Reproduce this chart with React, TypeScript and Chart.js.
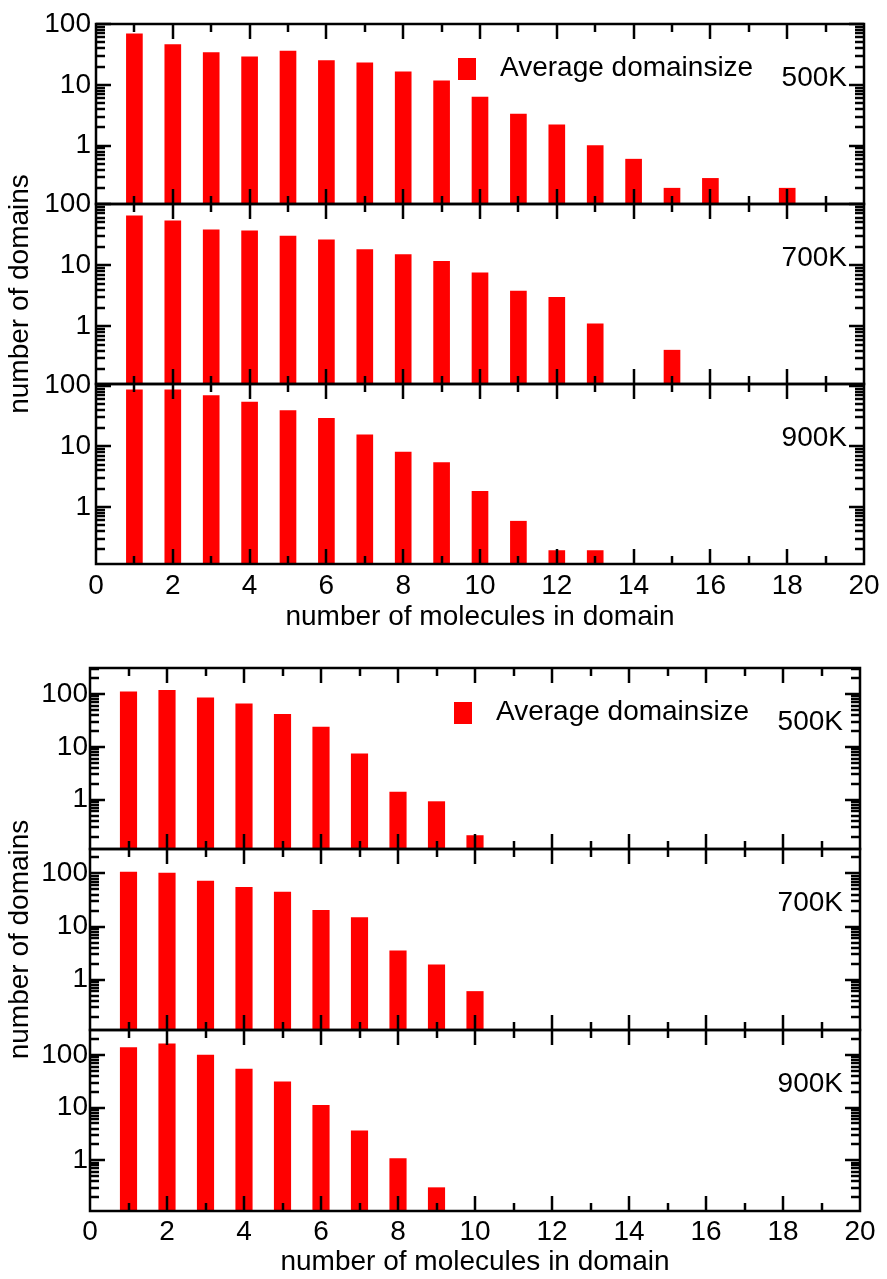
import React, { useEffect, useRef } from 'react';
import { Chart, registerables } from 'chart.js';

Chart.register(...registerables);

// ---------------- data ----------------
const temperatures = ['500K', '700K', '900K'];
const legendLabel = 'Average domainsize';
const xTitle = 'number of molecules in domain';
const yTitle = 'number of domains';
const decadeTicks = [0.1, 1, 10, 100, 1000];

// upper figure
const sizesUpper = [1, 2, 3, 4, 5, 6, 7, 8, 9, 10, 11, 12, 13, 14, 15, 16, 17, 18];
const upper500 = [69, 46, 34, 29, 36, 25, 23, 16.3, 11.6, 6.3, 3.3, 2.2, 1.0, 0.6, 0.2, 0.29, null, 0.2];
const upper700 = [64, 53, 38, 36.5, 30, 26, 18, 15, 11.6, 7.5, 3.8, 3.0, 1.1, null, 0.41, null, null, null];
const upper900 = [86, 86, 69, 54, 39, 29, 15.5, 8, 5.4, 1.8, 0.58, 0.19, 0.19, null, null, null, null, null];
const upperRanges = [[0.11, 100], [0.115, 100], [0.114, 107]];

// lower figure
const sizesLower = [1, 2, 3, 4, 5, 6, 7, 8, 9, 10];
const lower500 = [110, 117, 84, 65, 41, 23.6, 7.4, 1.4, 0.92, 0.21];
const lower700 = [106, 101, 72, 55, 44.6, 20.2, 14.7, 3.5, 1.9, 0.6];
const lower900 = [138, 164, 100, 54, 31, 11.1, 3.6, 1.07, 0.3, null];
const lowerRanges = [[0.117, 309], [0.113, 288], [0.108, 299]];

const X_MIN = 0;
const X_MAX = 20;
const X_STEP = 2;

// ---------------- styling ----------------
const RED = 'rgb(255,0,0)';
const FAMILY = '"Liberation Sans", Arial, Helvetica, sans-serif';
const FONT_SIZE = 28;
const LINE_W = 2.5;

type PanelLayout = {
  canvasTop: number;
  canvasHeight: number;
  padTop: number;
  padRight: number;
  axisWidth: number;
  xAxisHeight: number;
  yTickPad: number;
  xTickPad: number;
  xTitlePad: number;
  barThickness: number;
};

const decorPlugin = {
  id: 'panelDecor',
  afterDraw(chart: any, _args: any, opts: any) {
    const { ctx, chartArea } = chart;
    const xs = chart.scales.x;
    const left = chartArea.left;
    const right = chartArea.right;
    const yIds: string[] = ['y500', 'y700', 'y900'];
    ctx.save();
    ctx.lineWidth = LINE_W;
    ctx.lineCap = 'butt';
    ctx.strokeStyle = '#000';
    const line = (x1: number, y1: number, x2: number, y2: number) => {
      ctx.beginPath();
      ctx.moveTo(x1, y1);
      ctx.lineTo(x2, y2);
      ctx.stroke();
    };
    const font = `${FONT_SIZE}px ${FAMILY}`;
    yIds.forEach((id, idx) => {
      const ys = chart.scales[id];
      const top = ys.top;
      const bottom = ys.bottom;
      ctx.strokeStyle = '#000';
      // y ticks (log, inward, left and right)
      const dmin = Math.floor(Math.log10(ys.min));
      const dmax = Math.ceil(Math.log10(ys.max));
      for (let d = dmin; d <= dmax; d++) {
        for (let m = 1; m <= 9; m++) {
          const v = m * Math.pow(10, d);
          if (v < ys.min || v > ys.max) continue;
          const py = Math.round(ys.getPixelForValue(v));
          const len = m === 1 ? 15 : 9;
          line(left, py, left + len, py);
          line(right, py, right - len, py);
        }
      }
      // x ticks (inward, top and bottom edge)
      for (let v = X_MIN + 1; v < X_MAX; v++) {
        const px = Math.round(xs.getPixelForValue(v));
        const len = v % 2 === 0 ? 15 : 8;
        line(px, top, px, top + len);
        line(px, bottom, px, bottom - len);
      }
      ctx.strokeRect(left, top, right - left, bottom - top);
      // temperature label
      ctx.fillStyle = '#000';
      ctx.font = font;
      ctx.textAlign = 'right';
      ctx.textBaseline = 'alphabetic';
      ctx.fillText(temperatures[idx], right - 17, top + 62);
    });
    // legend
    ctx.fillStyle = RED;
    ctx.fillRect(right - 406, chartArea.top + 34, 18, 22);
    ctx.fillStyle = '#000';
    ctx.font = font;
    ctx.textAlign = 'left';
    ctx.textBaseline = 'alphabetic';
    ctx.fillText(legendLabel, right - 364, chartArea.top + 52);
    // y title
    ctx.save();
    ctx.translate(20.5, (chartArea.top + chartArea.bottom) / 2);
    ctx.rotate(-Math.PI / 2);
    ctx.textAlign = 'center';
    ctx.textBaseline = 'middle';
    ctx.fillText(yTitle, 0, 0);
    ctx.restore();
    ctx.restore();
  },
};

function Panel({ layout, sizes, series, ranges }: { layout: PanelLayout; sizes: number[]; series: (number | null)[][]; ranges: number[][] }) {
  const ref = useRef<HTMLCanvasElement>(null);
  useEffect(() => {
    if (!ref.current) return;
    const yIds = ['y500', 'y700', 'y900'];
    const font = { family: FAMILY, size: FONT_SIZE };
    const scales: any = {
      x: {
        type: 'linear',
        position: 'bottom',
        offset: false,
        min: X_MIN,
        max: X_MAX,
        grid: { display: false, drawTicks: false, offset: false },
        border: { display: false },
        ticks: { stepSize: X_STEP, font, color: '#000', padding: layout.xTickPad, maxRotation: 0, autoSkip: false },
        title: { display: true, text: xTitle, font, color: '#000', padding: { top: 0, bottom: layout.xTitlePad } },
        afterFit: (s: any) => {
          s.height = layout.xAxisHeight;
          s.paddingLeft = 0;
          s.paddingRight = 0;
        },
      },
    };
    yIds.forEach((id, i) => {
      scales[id] = {
        type: 'logarithmic',
        position: 'left',
        stack: 'panels',
        stackWeight: 1,
        weight: 3 - i,
        min: ranges[i][0],
        max: ranges[i][1],
        grid: { display: false, drawTicks: false },
        border: { display: false },
        ticks: { font, color: '#000', padding: layout.yTickPad, autoSkip: false, callback: (v: any) => String(v) },
        afterBuildTicks: (s: any) => {
          s.ticks = decadeTicks.filter((v) => v >= s.min && v <= s.max).map((v) => ({ value: v }));
        },
        afterFit: (s: any) => {
          s.width = layout.axisWidth;
          s.paddingTop = 0;
          s.paddingBottom = 0;
        },
      };
    });
    const datasets = series.map((vals, i) => ({
      label: `${legendLabel} ${temperatures[i]}`,
      yAxisID: yIds[i],
      xAxisID: 'x',
      data: sizes.map((s, k) => ({ x: s, y: vals[k] })).filter((p) => p.y != null),
      backgroundColor: RED,
      borderWidth: 0,
      barThickness: layout.barThickness,
      grouped: false,
    }));
    const chart = new Chart(ref.current, {
      type: 'bar',
      data: { datasets } as any,
      options: {
        responsive: false,
        animation: false,
        devicePixelRatio: 1,
        layout: { padding: { left: 0, top: layout.padTop, right: layout.padRight, bottom: 0 } },
        scales,
        plugins: {
          legend: { display: false },
          tooltip: { enabled: false },
        },
      } as any,
      plugins: [decorPlugin as any],
    });
    return () => chart.destroy();
  }, []);
  return (
    <canvas
      ref={ref}
      width={887}
      height={layout.canvasHeight}
      style={{ position: 'absolute', left: 0, top: layout.canvasTop, width: 887, height: layout.canvasHeight, display: 'block' }}
    />
  );
}

const upperLayout: PanelLayout = {
  canvasTop: 0,
  canvasHeight: 645,
  padTop: 24,
  padRight: 23,
  axisWidth: 96,
  xAxisHeight: 81,
  yTickPad: 5,
  xTickPad: 5,
  xTitlePad: 11,
  barThickness: 16,
};

const lowerLayout: PanelLayout = {
  canvasTop: 645,
  canvasHeight: 634,
  padTop: 23,
  padRight: 27,
  axisWidth: 90,
  xAxisHeight: 68,
  yTickPad: 2,
  xTickPad: 4,
  xTitlePad: 0,
  barThickness: 16.5,
};

export default function App() {
  return (
    <div style={{ position: 'absolute', left: 0, top: 0, width: 887, height: 1279, background: '#fff', overflow: 'hidden' }}>
      <Panel layout={upperLayout} sizes={sizesUpper} series={[upper500, upper700, upper900]} ranges={upperRanges} />
      <Panel layout={lowerLayout} sizes={sizesLower} series={[lower500, lower700, lower900]} ranges={lowerRanges} />
    </div>
  );
}
